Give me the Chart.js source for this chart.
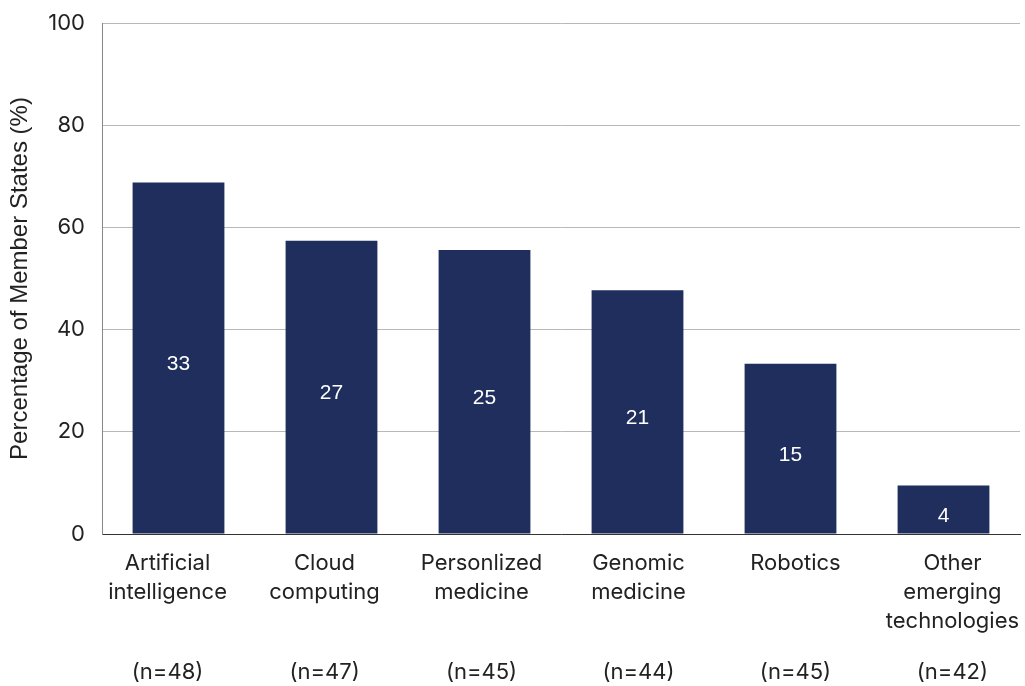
<!DOCTYPE html>
<html><head><meta charset="utf-8">
<script src="https://cdn.jsdelivr.net/npm/chart.js@4"></script>
<style>html,body{margin:0;padding:0;background:#fff}#wrap{width:1025px;height:686px}</style>
</head><body><div id="wrap"><canvas id="c"></canvas></div>
<script>
const categories = [["Artificial","intelligence"],["Cloud","computing"],["Personlized","medicine"],["Genomic","medicine"],["Robotics"],["Other","emerging","technologies"]];
const percentages = [68.8, 57.4, 55.6, 47.7, 33.3, 9.5];
const counts = [33, 27, 25, 21, 15, 4];
const sampleSizes = ["(n=48)","(n=47)","(n=45)","(n=44)","(n=45)","(n=42)"];
const yTicks = [0, 20, 40, 60, 80, 100];

const FONT = "Inter, 'Noto Sans', sans-serif";
const SANS = "'Liberation Sans', Arial, sans-serif";
const barColor = "#1f2e5c";

const labelsPlugin = {
  id: 'extraLabels',
  afterDatasetsDraw(chart) {
    const ctx = chart.ctx;
    const meta = chart.getDatasetMeta(0);
    const y = chart.scales.y;
    const x = chart.scales.x;
    ctx.save();
    ctx.font = "21px " + SANS;
    ctx.fillStyle = "#ffffff";
    ctx.textAlign = "center";
    ctx.textBaseline = "middle";
    meta.data.forEach((bar, i) => {
      const mid = y.getPixelForValue(percentages[i] / 2);
      ctx.fillText(String(counts[i]), bar.x, mid + 6);
    });
    // category labels and sample sizes, spread slightly wider than the bars
    const c = (x.left + x.right) / 2;
    ctx.font = "22px " + FONT;
    ctx.fillStyle = "#222222";
    categories.forEach((lines, i) => {
      const lx = c + (x.getPixelForValue(i) - c) * 1.026 - 1;
      lines.forEach((t, k) => ctx.fillText(t, lx, x.top + 29 + k * 29));
      ctx.fillText(sampleSizes[i], lx, 672);
    });
    ctx.restore();
  }
};

new Chart(document.getElementById('c'), {
  type: 'bar',
  data: {
    labels: categories,
    datasets: [{
      data: percentages,
      backgroundColor: barColor,
      barPercentage: 0.6,
      categoryPercentage: 1.0
    }]
  },
  options: {
    responsive: true,
    maintainAspectRatio: false,
    animation: false,
    layout: { padding: { top: 23, right: 5, left: 0, bottom: 0 } },
    plugins: { legend: { display: false }, tooltip: { enabled: false } },
    scales: {
      x: {
        grid: { display: false, drawTicks: false },
        border: { display: true, color: "#333333", width: 1 },
        ticks: { display: false },
        afterFit(s) { s.height = 152; s.paddingLeft = 0; s.paddingRight = 0; }
      },
      y: {
        min: 0, max: 100,
        afterBuildTicks(s) { s.ticks = yTicks.map(v => ({ value: v })); },
        grid: { color: "#b8b8b8", lineWidth: 1, drawTicks: false },
        border: { display: true, color: "#888888", width: 1 },
        ticks: { color: "#222222", font: { family: FONT, size: 22 }, padding: 17 },
        title: { display: true, text: "Percentage of Member States (%)", color: "#222222", font: { family: SANS, size: 24 }, padding: { top: 6, bottom: 0 } },
        afterFit(s) { s.width = 102; s.paddingTop = 0; s.paddingBottom = 0; }
      }
    }
  },
  plugins: [labelsPlugin]
});
</script></body></html>
